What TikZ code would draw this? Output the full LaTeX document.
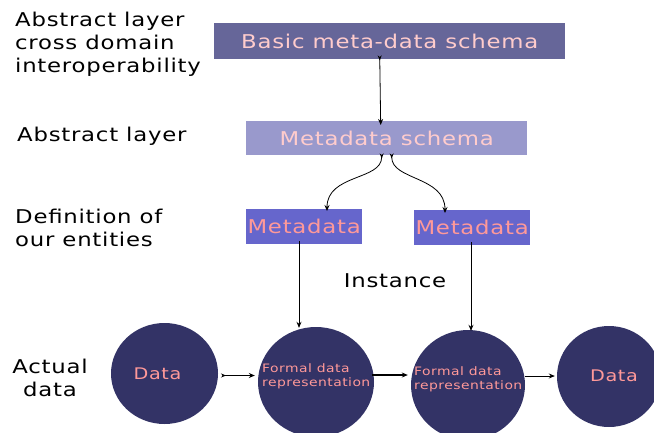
\documentclass[tikz,border=0pt]{standalone}
\usepackage{fontspec}
\setmainfont{DejaVu Sans}[FakeStretch=1.2,LetterSpace=4]
\usetikzlibrary{arrows.meta,shapes.geometric}

\definecolor{basicfill}{HTML}{666699}
\definecolor{schemafill}{HTML}{9999CC}
\definecolor{metafill}{HTML}{6666CC}
\definecolor{datafill}{HTML}{333366}
\definecolor{palepink}{HTML}{FFCCCC}
\definecolor{salmon}{HTML}{FF9999}

\begin{document}
\begin{tikzpicture}[x=1pt,y=-1pt,
  layer/.style={anchor=north west, inner sep=0pt, align=left,
    font=\fontsize{19}{23}\selectfont},
  bar/.style={rectangle, inner sep=0pt, anchor=north west,
    font=\fontsize{19}{23}\selectfont},
  blob/.style={ellipse, inner sep=0pt, fill=datafill},
  blobtext/.style={inner sep=0pt, text=salmon},
  conn/.style={draw=black, line width=0.8pt,
    -{Stealth[length=6pt,width=5pt]}},
  tailconn/.style={draw=black, line width=0.8pt,
    {Stealth[reversed,length=5pt,width=4pt]}-{Stealth[length=6pt,width=5pt]}}
]
\useasboundingbox (0,0) rectangle (654,432);

% layer captions on the left
\node[layer] (capA) at (15,12) {Abstract layer\\cross domain\\interoperability};
\node[layer] (capB) at (17,127) {Abstract layer};
\node[layer] (capC) at (15,209) {Definition of\\our entities};
\node[layer, align=center, anchor=north] (capD) at (50,359) {Actual\\data};

% schema boxes
\node[bar, fill=basicfill, text=palepink, minimum width=351pt, minimum height=36pt]
  (basic) at (214,23) {Basic meta-data schema};
\node[bar, fill=schemafill, text=palepink, minimum width=281pt, minimum height=34pt]
  (schema) at (246,121) {Metadata schema};
\node[bar, fill=metafill, text=salmon, minimum width=116pt, minimum height=35pt]
  (metaL) at (246,209) {Metadata};
\node[bar, fill=metafill, text=salmon, minimum width=116pt, minimum height=35pt]
  (metaR) at (414,210) {Metadata};

\node[inner sep=0pt, font=\fontsize{19}{23}\selectfont] (inst) at (395,281) {Instance};

% data circles
\node[blob, minimum width=107pt, minimum height=101pt] (d1) at (164.5,373.5) {};
\node[blob, minimum width=116pt, minimum height=110pt] (f1) at (316,382) {};
\node[blob, minimum width=114pt, minimum height=110pt] (f2) at (468,385) {};
\node[blob, minimum width=104pt, minimum height=101pt] (d2) at (609,376.5) {};

\node[blobtext, font=\fontsize{16}{20}\selectfont] (t1) at (157.5,374) {Data};
\node[blobtext, font=\fontsize{11.6}{14}\selectfont, align=left, anchor=north west]
  (t2) at (262,363) {Formal data\\representation};
\node[blobtext, font=\fontsize{11.6}{14}\selectfont, align=left, anchor=north west]
  (t3) at (414,366) {Formal data\\representation};
\node[blobtext, font=\fontsize{16}{20}\selectfont] (t4) at (614,376) {Data};

% connectors between the layers
\draw[tailconn] ([xshift=-10pt,yshift=4pt]basic.south) -- ([xshift=-6pt,yshift=-4pt]schema.north);
\draw[tailconn] ([xshift=-5pt,yshift=2pt]schema.south)
  .. controls +(0,27) and +(0,-37) .. ([xshift=81pt,yshift=-2pt]metaL.north west);
\draw[tailconn] ([xshift=5pt,yshift=2pt]schema.south)
  .. controls +(0,27) and +(0,-37) .. ([xshift=31pt,yshift=-3pt]metaR.north west);
\coordinate (s1) at ([xshift=53pt,yshift=3pt]metaL.south west);
\coordinate (s2) at ([xshift=57pt,yshift=3pt]metaR.south west);
\draw[conn] (s1) -- ([yshift=-1pt]s1 |- f1.north);
\draw[conn] (s2) -- ([yshift=-1pt]s2 |- f2.north);

% connectors along the data row
\coordinate (a1) at (221,375.5);
\coordinate (a2) at (372,375);
\coordinate (a3) at (525,376);
\draw[tailconn] (a1) -- ([xshift=-3pt]a1 -| f1.west);
\draw[conn, line width=1.6pt] (a2) -- ([xshift=-3pt]a2 -| f2.west);
\draw[conn] (a3) -- ([xshift=-2pt]a3 -| d2.west);
\end{tikzpicture}
\end{document}
